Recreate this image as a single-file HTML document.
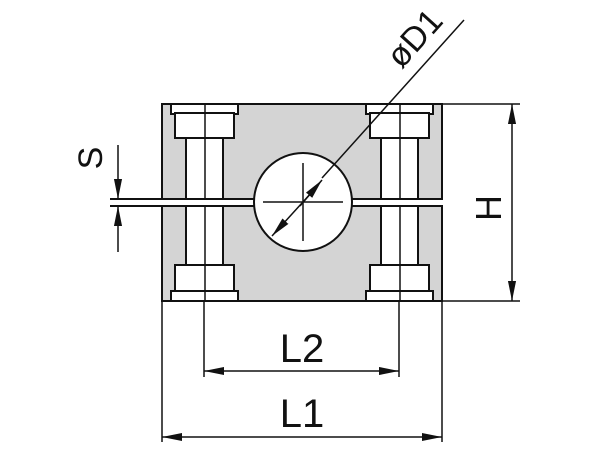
<!DOCTYPE html>
<html><head><style>body{margin:0;background:#fff}svg{display:block}text{font-family:"Liberation Sans",sans-serif;fill:#111}</style></head>
<body>
<svg width="600" height="450" viewBox="0 0 600 450" xmlns="http://www.w3.org/2000/svg">
<defs>
<marker id="b" viewBox="0 0 10 10" refX="10" refY="5" markerWidth="20" markerHeight="9" markerUnits="userSpaceOnUse" orient="auto-start-reverse" preserveAspectRatio="none"><path d="M0,0.5L10,5L0,9.5z" fill="#111"/></marker>
</defs>
<g stroke="#111" stroke-width="2" fill="none">
<rect x="162" y="104" width="280" height="95" fill="#d4d4d4"/>
<rect x="162" y="206" width="280" height="95" fill="#d4d4d4"/>
<g id="bolt" fill="#fff">
<rect x="186" y="135" width="37" height="135"/>
<rect x="171" y="104" width="67" height="10"/>
<rect x="175" y="113" width="59" height="25"/>
<rect x="175" y="265" width="59" height="26"/>
<rect x="171" y="291" width="67" height="10"/>
<line x1="205" y1="104" x2="205" y2="301" stroke-width="1.5"/>
</g>
<use href="#bolt" transform="translate(195,0)"/>
<rect x="110" y="200" width="340" height="5" fill="#fff" stroke="none"/>
<line x1="110" y1="199" x2="442" y2="199"/>
<line x1="110" y1="206" x2="442" y2="206"/>
<circle cx="303" cy="202" r="49" fill="#fff"/>
<line x1="303" y1="163" x2="303" y2="241" stroke-width="1.5"/>
<line x1="263" y1="202" x2="343" y2="202" stroke-width="1.5"/>
<line x1="464" y1="20" x2="322" y2="178" stroke-width="1.5"/>
<line x1="312" y1="192" x2="272" y2="236" stroke-width="1.5" marker-end="url(#b)"/>
<line x1="300" y1="206" x2="322" y2="180" stroke-width="1.5" marker-end="url(#b)"/>
<line x1="118" y1="145" x2="118" y2="199" stroke-width="1.5" marker-end="url(#b)"/>
<line x1="118" y1="252" x2="118" y2="206" stroke-width="1.5" marker-end="url(#b)"/>
<line x1="442" y1="104" x2="520" y2="104" stroke-width="1.5"/>
<line x1="442" y1="301" x2="520" y2="301" stroke-width="1.5"/>
<line x1="512" y1="104" x2="512" y2="301" stroke-width="1.5" marker-start="url(#b)" marker-end="url(#b)"/>
<line x1="204" y1="301" x2="204" y2="377" stroke-width="1.5"/>
<line x1="399" y1="301" x2="399" y2="377" stroke-width="1.5"/>
<line x1="204" y1="371" x2="399" y2="371" stroke-width="1.5" marker-start="url(#b)" marker-end="url(#b)"/>
<line x1="162" y1="301" x2="162" y2="442" stroke-width="1.5"/>
<line x1="442" y1="301" x2="442" y2="442" stroke-width="1.5"/>
<line x1="162" y1="437" x2="442" y2="437" stroke-width="1.5" marker-start="url(#b)" marker-end="url(#b)"/>
</g>
<text x="302" y="362" font-size="40" text-anchor="middle">L2</text>
<text x="302" y="427" font-size="40" text-anchor="middle">L1</text>
<text transform="translate(501,208) rotate(-90)" font-size="36" text-anchor="middle">H</text>
<text transform="translate(102,158) rotate(-90)" font-size="34" text-anchor="middle">S</text>
<text transform="translate(423,46) rotate(-48)" font-size="34" text-anchor="middle">øD1</text>
</svg>
</body></html>
